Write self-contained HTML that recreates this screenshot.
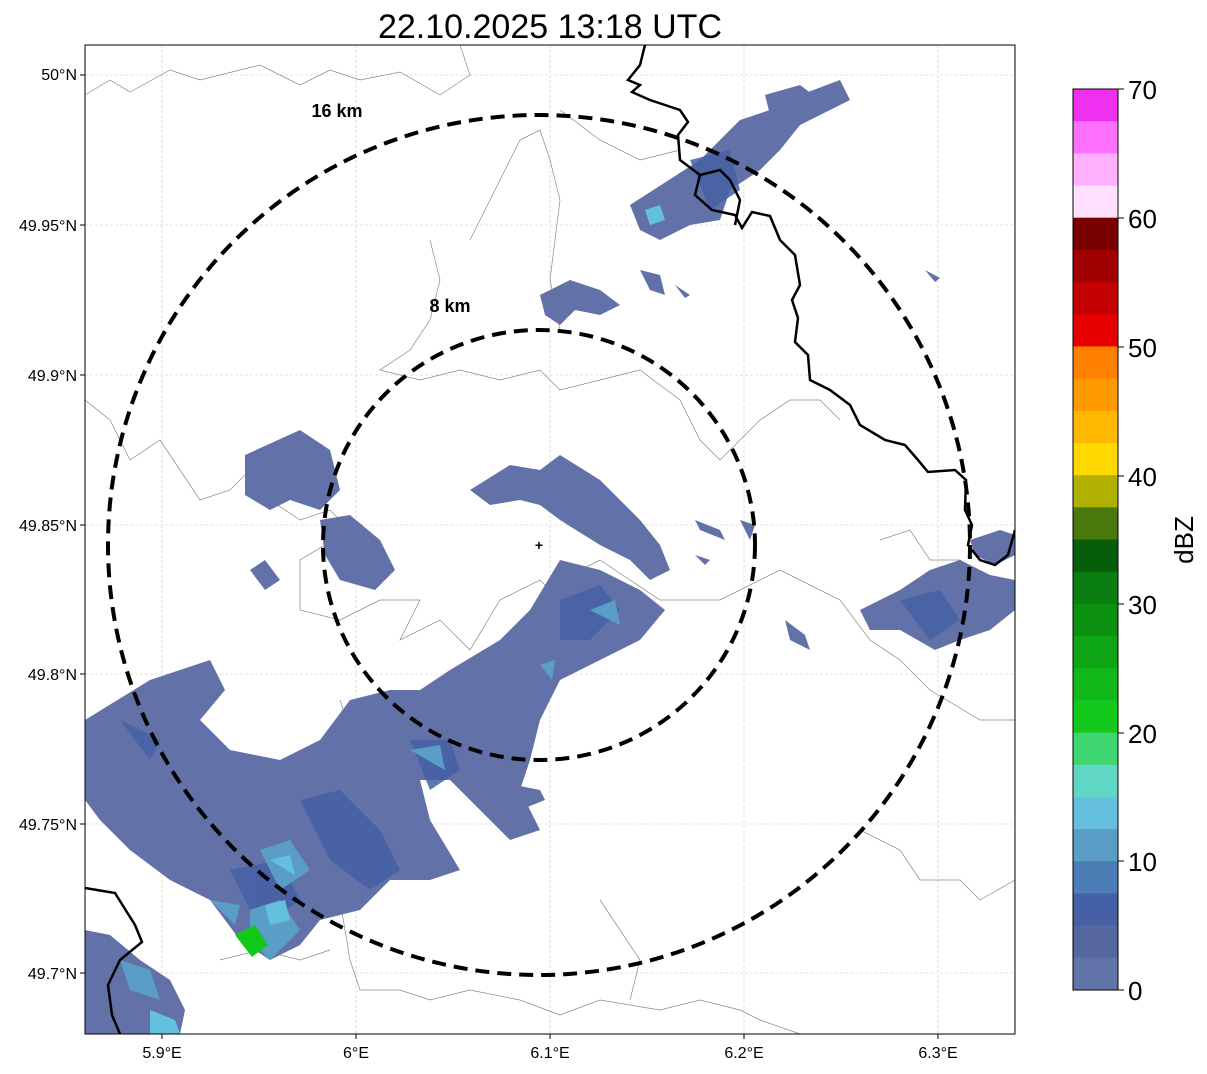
<!DOCTYPE html>
<html><head><meta charset="utf-8"><style>
body{margin:0;background:#fff;}
svg text{font-family:"Liberation Sans",sans-serif;}
</style></head><body>
<svg width="1207" height="1069" viewBox="0 0 1207 1069" xmlns="http://www.w3.org/2000/svg">
<rect width="1207" height="1069" fill="#fff"/>
<text x="550" y="38" font-size="34" text-anchor="middle">22.10.2025 13:18 UTC</text>
<defs><clipPath id="c"><rect x="85" y="45" width="930" height="989"/></clipPath></defs>
<g clip-path="url(#c)">
<g stroke="#c8c8c8" stroke-width="0.6" stroke-dasharray="3,2">
<line x1="162" y1="45" x2="162" y2="1034"/><line x1="356" y1="45" x2="356" y2="1034"/><line x1="550" y1="45" x2="550" y2="1034"/><line x1="744" y1="45" x2="744" y2="1034"/><line x1="938" y1="45" x2="938" y2="1034"/>
<line x1="85" y1="75" x2="1015" y2="75"/><line x1="85" y1="225" x2="1015" y2="225"/><line x1="85" y1="375" x2="1015" y2="375"/><line x1="85" y1="525" x2="1015" y2="525"/><line x1="85" y1="674" x2="1015" y2="674"/><line x1="85" y1="824" x2="1015" y2="824"/><line x1="85" y1="973" x2="1015" y2="973"/>
</g>
<g fill="none" stroke="#888" stroke-width="0.7">
<path d="M85,95 L110,80 L130,92 L170,70 L200,80 L260,65 L300,85 L330,70 L360,80 L400,72 L440,95 L470,75 L460,45"/>
<path d="M85,400 L110,420 L130,460 L160,440 L180,470 L200,500 L230,490 L250,470 L270,500 L300,520 L330,510 L350,530 L300,560 L300,610 L340,620 L380,600 L420,600 L400,640 L440,620 L470,650 L500,600 L540,580 L570,610 L600,600"/>
<path d="M430,240 L440,280 L430,320 L410,350 L380,370 L420,380 L460,370 L500,380 L540,370 L560,390 L600,380 L640,370 L680,400 L700,440 L720,460 L740,440 L760,420 L790,400 L820,400 L840,420"/>
<path d="M470,240 L500,180 L520,140 L540,130 L550,160 L560,200 L550,280 L560,330"/>
<path d="M560,110 L600,140 L640,160 L680,150"/>
<path d="M560,580 L600,560 L660,600 L720,600 L780,570 L840,600 L870,640 L900,660 L930,690 L980,720 L1015,720"/>
<path d="M340,700 L360,760 L350,820 L360,870 L340,900 L350,960 L360,990 L400,990 L430,1000 L470,990 L520,1000 L560,1015 L600,1000 L660,1010 L700,1000 L740,1010 L760,1020 L800,1034"/>
<path d="M880,540 L910,530 L930,560 L960,560 L990,580 L1015,590"/>
<path d="M860,830 L900,850 L920,880 L960,880 L980,900 L1015,880"/>
<path d="M220,960 L260,950 L300,960 L330,950"/>
<path d="M600,900 L640,960 L630,1000"/>
</g>
<g fill="#6272a8" stroke="none">
<path d="M630,205 L700,160 L740,120 L770,110 L800,95 L840,80 L850,100 L800,125 L780,150 L760,170 L730,190 L720,220 L690,225 L660,240 L640,230 Z"/>
<path d="M765,95 L800,85 L820,100 L790,120 L770,115 Z"/>
<path d="M540,295 L570,280 L600,290 L620,305 L600,315 L575,310 L560,325 L545,315 Z"/>
<path d="M640,270 L660,275 L665,295 L650,290 Z"/>
<path d="M470,490 L510,465 L540,470 L560,455 L600,480 L620,500 L640,520 L660,545 L670,570 L650,580 L630,560 L600,545 L560,520 L540,505 L520,500 L490,505 Z"/>
<path d="M245,455 L300,430 L330,450 L340,490 L320,510 L290,500 L270,510 L245,495 Z"/>
<path d="M320,520 L350,515 L380,540 L395,570 L375,590 L340,580 L325,555 Z"/>
<path d="M250,570 L265,560 L280,580 L265,590 Z"/>
<path d="M85,720 L150,680 L210,660 L225,690 L200,720 L230,750 L280,760 L320,740 L350,700 L390,690 L420,690 L450,670 L500,640 L530,610 L560,560 L600,570 L640,590 L665,610 L640,640 L600,660 L560,680 L540,720 L530,760 L520,790 L540,830 L510,840 L480,810 L450,780 L420,780 L430,820 L460,870 L430,880 L390,880 L360,910 L320,920 L300,945 L270,960 L240,940 L210,900 L170,880 L130,850 L100,820 L85,800 Z"/>
<path d="M490,780 L540,790 L545,800 L520,810 Z"/>
<path d="M860,610 L900,590 L930,570 L960,560 L990,575 L1015,580 L1015,610 L990,630 L960,640 L935,650 L900,630 L870,630 Z"/>
<path d="M970,540 L1000,530 L1015,535 L1015,555 L995,565 L975,555 Z"/>
<path d="M85,930 L110,935 L140,960 L170,980 L185,1010 L180,1034 L85,1034 Z"/>
<path d="M695,520 L720,530 L725,540 L700,530 Z"/>
<path d="M740,520 L755,525 L750,540 Z"/>
<path d="M695,555 L710,560 L705,565 Z"/>
<path d="M785,620 L805,635 L810,650 L790,640 Z"/>
<path d="M925,270 L940,278 L935,282 Z"/>
<path d="M675,285 L690,295 L685,298 Z"/>
</g>
<g fill="#4560a5" opacity="0.85">
<path d="M300,800 L340,790 L380,830 L400,870 L370,890 L330,860 Z"/>
<path d="M560,600 L600,585 L620,610 L590,640 L560,640 Z"/>
<path d="M410,740 L450,740 L460,770 L430,790 Z"/>
<path d="M120,720 L160,740 L150,760 Z"/>
<path d="M900,600 L940,590 L960,620 L930,640 Z"/>
<path d="M230,870 L280,860 L300,900 L260,930 Z"/>
<path d="M690,160 L730,150 L740,190 L710,210 Z"/>
</g>
<g fill="#5a9ec8">
<path d="M260,850 L290,840 L310,870 L280,890 Z"/>
<path d="M250,910 L280,900 L300,930 L270,960 L250,940 Z"/>
<path d="M410,750 L440,745 L445,770 Z"/>
<path d="M120,960 L150,970 L160,1000 L130,990 Z"/>
<path d="M590,610 L615,600 L620,625 Z"/>
<path d="M210,900 L240,905 L235,925 Z"/>
</g>
<g fill="#65c0dd">
<path d="M265,905 L285,900 L290,920 L270,925 Z"/>
<path d="M645,210 L660,205 L665,220 L650,225 Z"/>
<path d="M150,1010 L175,1020 L180,1034 L150,1034 Z"/>
<path d="M270,860 L290,855 L295,875 Z"/>
</g>
<path d="M235,935 L255,925 L268,945 L252,957 Z" fill="#12c81a"/>
<path d="M540,665 L555,660 L552,680 Z" fill="#5a9ec8"/>
<g fill="none" stroke="#000" stroke-width="2.5">
<path d="M645,45 L640,65 L628,80 L640,85 L632,92 L650,100 L680,110 L688,122 L678,135 L680,160 L700,175 L695,195 L712,210 L735,215 L742,228 L752,212 L770,216 L780,240 L795,255 L800,285 L792,300 L798,318 L795,342 L808,355 L810,380 L830,390 L850,405 L860,425 L885,440 L905,445 L918,460 L928,472 L955,470 L966,480 L965,510 L972,525 L968,545 L980,560 L995,565 L1008,555 L1015,530"/>
<path d="M700,175 L720,170 L730,180 L740,200 L735,225"/>
<path d="M85,888 L115,893 L135,925 L142,942 L120,960 L108,985 L112,1015 L120,1034"/>
</g>
</g>
<rect x="85" y="45" width="930" height="989" fill="none" stroke="#000" stroke-width="1"/>
<g stroke="#000" stroke-width="1">
<line x1="162" y1="1034" x2="162" y2="1039"/><line x1="356" y1="1034" x2="356" y2="1039"/><line x1="550" y1="1034" x2="550" y2="1039"/><line x1="744" y1="1034" x2="744" y2="1039"/><line x1="938" y1="1034" x2="938" y2="1039"/>
<line x1="80" y1="75" x2="85" y2="75"/><line x1="80" y1="225" x2="85" y2="225"/><line x1="80" y1="375" x2="85" y2="375"/><line x1="80" y1="525" x2="85" y2="525"/><line x1="80" y1="674" x2="85" y2="674"/><line x1="80" y1="824" x2="85" y2="824"/><line x1="80" y1="973" x2="85" y2="973"/>
</g>
<g fill="none" stroke="#000" stroke-width="4" stroke-dasharray="14,8">
<ellipse cx="539" cy="545" rx="216" ry="215"/>
<ellipse cx="539" cy="545" rx="431" ry="430"/>
</g>
<text x="539" y="550" font-size="14" font-weight="bold" text-anchor="middle">+</text>
<text x="337" y="117" font-size="18" font-weight="bold" text-anchor="middle">16 km</text>
<text x="450" y="312" font-size="18" font-weight="bold" text-anchor="middle">8 km</text>
<g font-size="16" text-anchor="middle">
<text x="162" y="1058">5.9°E</text><text x="356" y="1058">6°E</text><text x="550" y="1058">6.1°E</text><text x="744" y="1058">6.2°E</text><text x="938" y="1058">6.3°E</text>
</g>
<g font-size="16" text-anchor="end">
<text x="77" y="80">50°N</text><text x="77" y="231">49.95°N</text><text x="77" y="381">49.9°N</text><text x="77" y="531">49.85°N</text><text x="77" y="680">49.8°N</text><text x="77" y="830">49.75°N</text><text x="77" y="979">49.7°N</text>
</g>
<g>
<rect x="1073" y="89.0" width="45" height="33" fill="#f030f0"/>
<rect x="1073" y="121.2" width="45" height="33" fill="#ff70ff"/>
<rect x="1073" y="153.4" width="45" height="33" fill="#ffb0ff"/>
<rect x="1073" y="185.6" width="45" height="33" fill="#ffe0ff"/>
<rect x="1073" y="217.7" width="45" height="33" fill="#7a0000"/>
<rect x="1073" y="249.9" width="45" height="33" fill="#a00000"/>
<rect x="1073" y="282.1" width="45" height="33" fill="#c40000"/>
<rect x="1073" y="314.3" width="45" height="33" fill="#e60000"/>
<rect x="1073" y="346.4" width="45" height="33" fill="#ff7f00"/>
<rect x="1073" y="378.6" width="45" height="33" fill="#ff9a00"/>
<rect x="1073" y="410.8" width="45" height="33" fill="#ffb800"/>
<rect x="1073" y="443.0" width="45" height="33" fill="#ffd800"/>
<rect x="1073" y="475.2" width="45" height="33" fill="#b0b000"/>
<rect x="1073" y="507.3" width="45" height="33" fill="#4a780a"/>
<rect x="1073" y="539.5" width="45" height="33" fill="#065e0a"/>
<rect x="1073" y="571.7" width="45" height="33" fill="#0a7e10"/>
<rect x="1073" y="603.9" width="45" height="33" fill="#0c9010"/>
<rect x="1073" y="636.0" width="45" height="33" fill="#0ea614"/>
<rect x="1073" y="668.2" width="45" height="33" fill="#10b818"/>
<rect x="1073" y="700.4" width="45" height="33" fill="#12c81a"/>
<rect x="1073" y="732.6" width="45" height="33" fill="#3ed66e"/>
<rect x="1073" y="764.8" width="45" height="33" fill="#60d6c4"/>
<rect x="1073" y="796.9" width="45" height="33" fill="#65c0dd"/>
<rect x="1073" y="829.1" width="45" height="33" fill="#5a9ec8"/>
<rect x="1073" y="861.3" width="45" height="33" fill="#4d7db5"/>
<rect x="1073" y="893.5" width="45" height="33" fill="#4560a5"/>
<rect x="1073" y="925.6" width="45" height="33" fill="#5667a0"/>
<rect x="1073" y="957.8" width="45" height="32.2" fill="#6273a8"/>
<rect x="1073" y="89" width="45" height="901" fill="none" stroke="#000" stroke-width="1"/>
</g>
<g font-size="26">
<g stroke="#000" stroke-width="1">
<line x1="1118" y1="89" x2="1124" y2="89"/><line x1="1118" y1="218" x2="1124" y2="218"/><line x1="1118" y1="347" x2="1124" y2="347"/><line x1="1118" y1="476" x2="1124" y2="476"/><line x1="1118" y1="604" x2="1124" y2="604"/><line x1="1118" y1="733" x2="1124" y2="733"/><line x1="1118" y1="861" x2="1124" y2="861"/><line x1="1118" y1="990" x2="1124" y2="990"/>
</g>
<text x="1128" y="99">70</text><text x="1128" y="228">60</text><text x="1128" y="357">50</text><text x="1128" y="486">40</text><text x="1128" y="614">30</text><text x="1128" y="743">20</text><text x="1128" y="871">10</text><text x="1128" y="1000">0</text>
<text transform="translate(1193,540) rotate(-90)" text-anchor="middle">dBZ</text>
</g>
</svg>
</body></html>
